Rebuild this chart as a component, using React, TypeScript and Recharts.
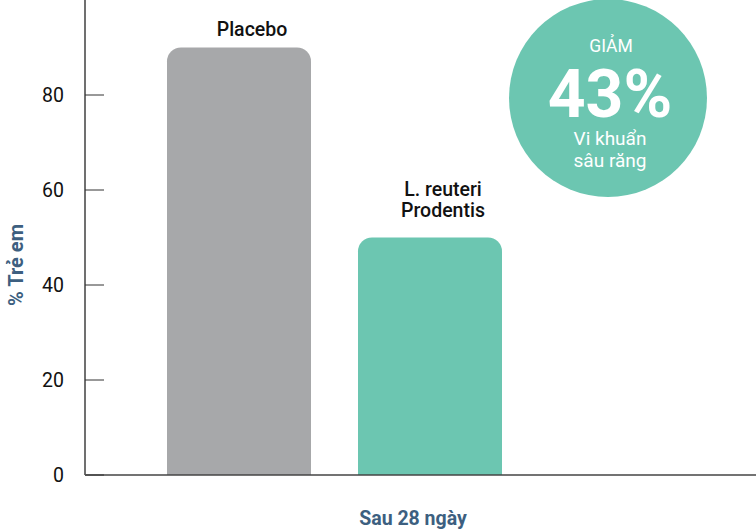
import React from 'react';
import { BarChart, Bar, XAxis, YAxis, LabelList, Customized } from 'recharts';

const groups = ['Sau 28 ngày'];
const placebo = [90];
const reuteri = [50];
const yTicks = [0, 20, 40, 60, 80];

const data = groups.map((g, i) => ({ name: g, placebo: placebo[i], reuteri: reuteri[i] }));

const GRAY = '#a7a8aa';
const TEAL = '#6cc6b1';
const NAVY = '#3d5f80';
const FONT = 'Roboto, "Noto Sans", sans-serif';

const barLabel = (lines: string[], gap: number) => (props: any) => {
  const { x, y, width } = props;
  const cx = x + width / 2 + 13;
  const n = lines.length;
  return (
    <text textAnchor="middle" fontFamily={FONT} fontSize={19.5} fontWeight={500} fill="#111">
      {lines.map((l, i) => (
        <tspan key={i} x={cx} y={y - gap - (n - 1 - i) * 21}>{l}</tspan>
      ))}
    </text>
  );
};

const Decor = () => (
  <g fontFamily={FONT}>
    <g transform="translate(16 265) rotate(-90)">
      <text x={0} y={0} textAnchor="middle" dominantBaseline="central"
        style={{ fontSize: 20, fontWeight: 700, fontFamily: FONT }} fill={NAVY}>% Trẻ em</text>
    </g>
    <text x={413} y={525} textAnchor="middle" fontSize={19.5} fontWeight={700} fill={NAVY}>Sau 28 ngày</text>
    <circle cx={608} cy={98} r={99} fill={TEAL} />
    <text x={611} y={52} textAnchor="middle" fontSize={17.5} fill="#fff">GIẢM</text>
    <text x={610} y={117} textAnchor="middle" fontSize={66} fontWeight={700} fill="#fff">43%</text>
    <text x={610} y={145} textAnchor="middle" fontSize={19} fill="#fff">Vi khuẩn</text>
    <text x={610} y={167} textAnchor="middle" fontSize={19} fill="#fff">sâu răng</text>
  </g>
);

export default function App() {
  return (
    <div style={{ width: 756, height: 531 }}>
      <style>{`body{margin:0}`}</style>
      <BarChart width={756} height={531} data={data} margin={{ top: 0, right: 0, bottom: 0, left: 0 }}
        barGap={47} barSize={144}>
        <XAxis dataKey="name" tick={false} tickLine={false} height={56}
          axisLine={{ stroke: '#444', strokeWidth: 1.5 }} padding={{ left: 0, right: 172 }} />
        <YAxis domain={[0, 100]} ticks={yTicks} width={85} tickSize={-19} tickMargin={40}
          axisLine={{ stroke: '#707070', strokeWidth: 2 }} tickLine={{ stroke: '#333' }}
          tick={{ fontFamily: FONT, fontSize: 19.5, fill: '#111' }} />
        <Bar dataKey="placebo" fill={GRAY} radius={[14, 14, 0, 0]} isAnimationActive={false}>
          <LabelList dataKey="placebo" content={barLabel(['Placebo'], 12)} />
        </Bar>
        <Bar dataKey="reuteri" fill={TEAL} radius={[14, 14, 0, 0]} isAnimationActive={false}>
          <LabelList dataKey="reuteri" content={barLabel(['L. reuteri', 'Prodentis'], 21)} />
        </Bar>
        <Customized component={Decor} />
      </BarChart>
    </div>
  );
}
